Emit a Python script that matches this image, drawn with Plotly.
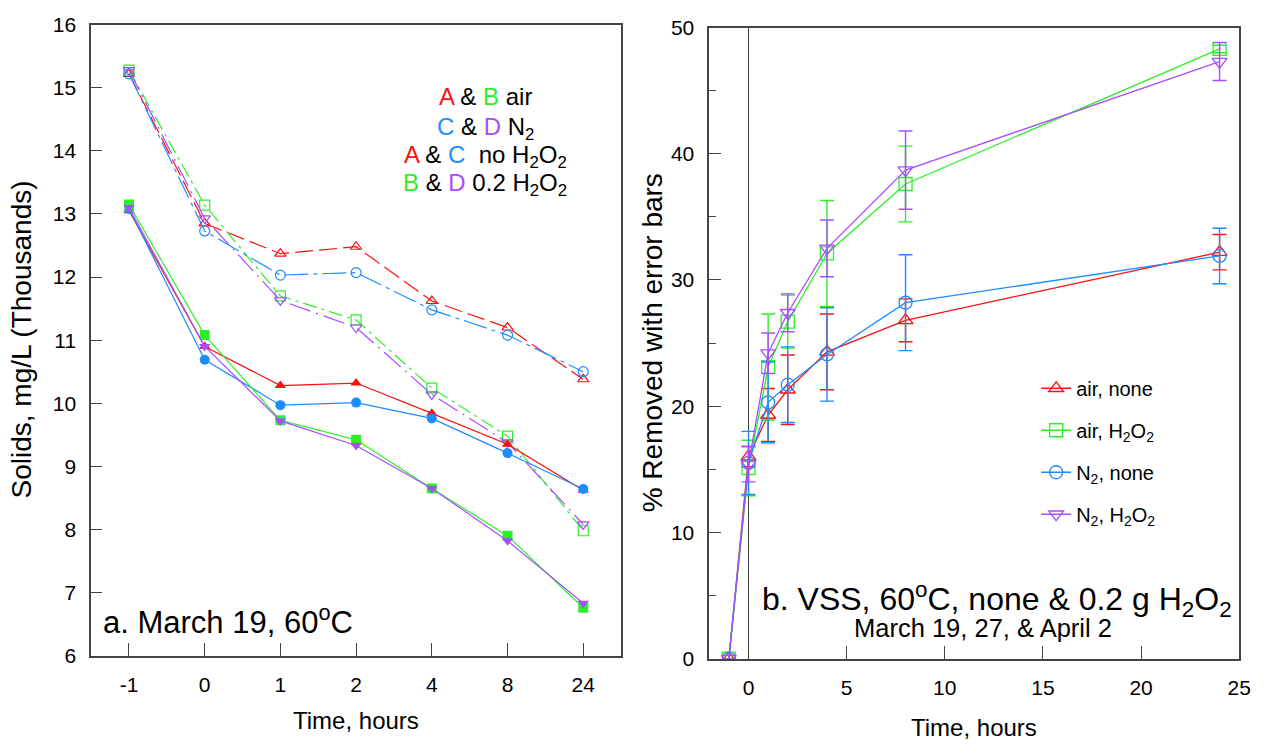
import plotly.graph_objects as go

# ---------------- data: panel a (solids, thousands mg/L) ----------------
time_cats = ["-1", "0", "1", "2", "4", "8", "24"]

A_open = [15.22, 12.85, 12.37, 12.48, 11.62, 11.20, 10.38]
B_open = [15.28, 13.14, 11.70, 11.32, 10.24, 9.48, 7.98]
C_open = [15.22, 12.73, 12.03, 12.07, 11.48, 11.08, 10.50]
D_open = [15.28, 12.93, 11.63, 11.20, 10.14, 9.38, 8.08]

A_fill = [13.05, 10.90, 10.28, 10.32, 9.84, 9.35, 8.62]
B_fill = [13.15, 11.08, 9.73, 9.42, 8.65, 7.90, 6.76]
C_fill = [13.08, 10.69, 9.97, 10.01, 9.76, 9.21, 8.64]
D_fill = [13.10, 10.90, 9.72, 9.33, 8.65, 7.82, 6.83]

# ---------------- data: panel b (% VSS removed) ----------------
hours = [-1, 0, 1, 2, 4, 8, 24]
air_none = [0, 16.0, 19.3, 21.3, 24.3, 26.8, 32.2]
air_none_err = [None, 0.8, 2.1, 2.75, 3.0, 1.7, 1.4]
air_h2o2 = [0, 15.1, 23.1, 26.7, 32.1, 37.6, 48.3]
air_h2o2_err = [None, 2.2, 4.2, 2.1, 4.2, 3.0, 0.3]
n2_none = [0, 15.5, 20.3, 21.7, 24.1, 28.2, 31.9]
n2_none_err = [None, 2.5, 3.2, 3.0, 3.7, 3.8, 2.2]
n2_h2o2 = [0, 15.4, 24.2, 27.4, 32.5, 38.7, 47.3]
n2_h2o2_err = [None, 1.4, 1.6, 1.5, 2.25, 3.1, 1.5]

RED = "#FF1010"
GREEN = "#2AF02A"
BLUE = "#1E8CFF"
PURPLE = "#A84DFF"
AXC = "#444444"
FONT = "Liberation Sans, Arial, sans-serif"

W, H = 1273, 752

fig = go.Figure()

# panel a: open symbols, dashed lines
open_series = [
    (A_open, RED, "triangle-up-open", "18px,6px"),
    (B_open, GREEN, "square-open", "14px,5px,3px,5px"),
    (C_open, BLUE, "circle-open", "24px,5px,4px,5px"),
    (D_open, PURPLE, "triangle-down-open", "22px,6px,2px,6px"),
]
for vals, col, sym, dash in open_series:
    fig.add_trace(go.Scatter(
        x=time_cats, y=vals, mode="lines+markers", xaxis="x", yaxis="y",
        line=dict(color=col, width=1.2, dash=dash),
        marker=dict(symbol=sym, size=10, color=col, line=dict(width=1.2, color=col)),
        showlegend=False, hoverinfo="skip"))

fill_series = [
    (A_fill, RED, "triangle-up"),
    (C_fill, BLUE, "circle"),
    (B_fill, GREEN, "square"),
    (D_fill, PURPLE, "triangle-down"),
]
for vals, col, sym in fill_series:
    fig.add_trace(go.Scatter(
        x=time_cats, y=vals, mode="lines+markers", xaxis="x", yaxis="y",
        line=dict(color=col, width=1.2),
        marker=dict(symbol=sym, size=10, color=col),
        showlegend=False, hoverinfo="skip"))

# panel b
b_series = [
    ("air, none", air_none, air_none_err, RED, "triangle-up-open"),
    ("air, H<sub>2</sub>O<sub>2</sub>", air_h2o2, air_h2o2_err, GREEN, "square-open"),
    ("N<sub>2</sub>, none", n2_none, n2_none_err, BLUE, "circle-open"),
    ("N<sub>2</sub>, H<sub>2</sub>O<sub>2</sub>", n2_h2o2, n2_h2o2_err, PURPLE, "triangle-down-open"),
]
for i, (name, vals, err, col, sym) in enumerate(b_series):
    fig.add_trace(go.Scatter(
        x=hours, y=vals, mode="lines+markers", xaxis="x2", yaxis="y2", name=name,
        legendgroup="g%d" % i,
        line=dict(color=col, width=1.3),
        marker=dict(symbol=sym, size=13, color=col, line=dict(width=1.3, color=col)),
        error_y=dict(type="data", array=err, visible=True, color=col, thickness=1.4, width=7),
        hoverinfo="skip"))

common_axis = dict(showline=True, mirror=True, linecolor=AXC, linewidth=1.6,
                   ticks="inside", tickcolor=AXC, tickwidth=1.3, showgrid=False,
                   tickfont=dict(size=21, color="black", family=FONT))

fig.update_layout(
    width=W, height=H, margin=dict(l=0, r=0, t=0, b=0),
    paper_bgcolor="white", plot_bgcolor="white",
    font=dict(family=FONT, size=20, color="black"),
    xaxis=dict(domain=[92 / W, 627 / W], type="category", range=[-0.5, 6.5],
               ticklen=13, zeroline=False, anchor="y", ticklabelstandoff=9, **common_axis),
    yaxis=dict(domain=[1 - 664 / H, 1 - 13 / H], range=[6, 16], dtick=1,
               ticklen=11, zeroline=False, anchor="x", ticklabelstandoff=9, **common_axis),
    xaxis2=dict(domain=[716 / W, 1251 / W], range=[-2, 25], tickvals=[0, 5, 10, 15, 20, 25],
                ticklen=13, zeroline=True, zerolinecolor=AXC, zerolinewidth=1.4,
                anchor="y2", ticklabelstandoff=9, **common_axis),
    yaxis2=dict(domain=[1 - 667 / H, 1 - 16 / H], range=[0, 50], dtick=10,
                ticklen=12, zeroline=False, anchor="x2", ticklabelstandoff=9,
                minor=dict(dtick=5, ticks="inside", ticklen=7, tickcolor=AXC, tickwidth=1.3),
                **common_axis),
    legend=dict(x=1046 / W, y=1 - 368 / H, xanchor="left", yanchor="top",
                bgcolor="rgba(0,0,0,0)", font=dict(size=20, family=FONT),
                tracegroupgap=13, traceorder="grouped"),
)

ann = []
def add(text, x, y, size, xanchor="center", yanchor="middle", angle=0):
    ann.append(dict(text=text, x=x / W, y=1 - y / H, xref="paper", yref="paper",
                    showarrow=False, xanchor=xanchor, yanchor=yanchor, textangle=angle,
                    font=dict(size=size, family=FONT, color="black")))

def c(t, col):
    return "<span style='color:%s'>%s</span>" % (col, t)

# axis titles
add("Time, hours", 359.5, 731, 24)
add("Time, hours", 983.5, 738, 24)
add("Solids, mg/L (Thousands)", 22, 338, 28, angle=-90)
add("% Removed with error bars", 659, 341, 28, angle=-90)

# panel a key
add(c("A", RED) + " &amp; " + c("B", GREEN) + " air", 490, 87, 24)
add(c("C", BLUE) + " &amp; " + c("D", PURPLE) + " N<sub>2</sub>", 490, 120, 24)
add(c("A", RED) + " &amp; " + c("C", BLUE) + " &nbsp;no H<sub>2</sub>O<sub>2</sub>", 490, 149, 24)
add(c("B", GREEN) + " &amp; " + c("D", PURPLE) + " 0.2 H<sub>2</sub>O<sub>2</sub>", 490, 178, 24)

# panel labels
add("a. March 19, 60<sup>o</sup>C", 102, 627, 31, xanchor="left")
add("b. VSS, 60<sup>o</sup>C, none &amp; 0.2 g H<sub>2</sub>O<sub>2</sub>", 1006, 606, 32)
add("March 19, 27, &amp; April 2", 992, 635, 25.5)

fig.update_layout(annotations=ann)
fig.write_html("out.html")
